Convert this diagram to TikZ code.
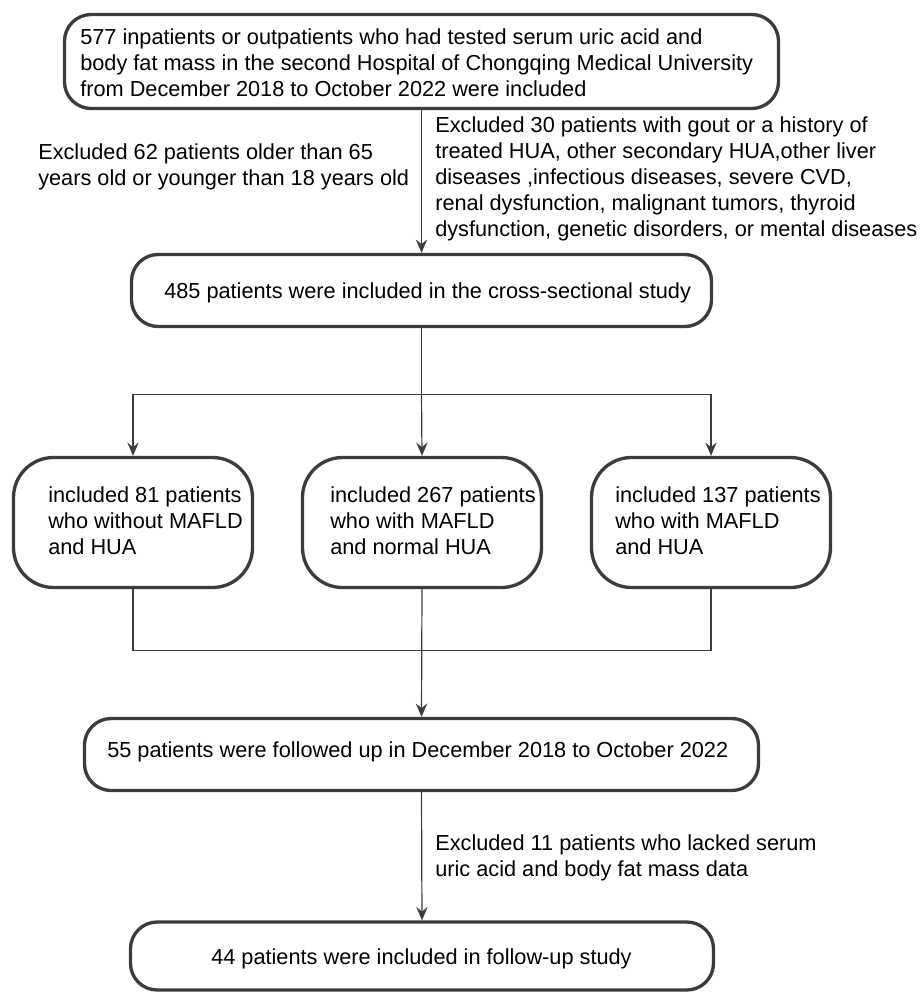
\documentclass[tikz,border=0pt]{standalone}
\usepackage{fontspec}
\setmainfont{Liberation Sans}
\usepackage{tikz}
\usetikzlibrary{arrows.meta,positioning,calc}
\definecolor{edgegray}{HTML}{3C3C3C}

\begin{document}
\begin{tikzpicture}[x=0.75pt,y=-0.75pt,
  every node/.style={font=\fontsize{16.3}{19.5}\selectfont},
  stage/.style={draw=edgegray, line width=2.5pt, rounded corners=20pt, inner sep=0pt},
  group/.style={stage, rounded corners=30pt, minimum width=179.25pt, minimum height=97.5pt},
  txt/.style={align=left, inner sep=0pt, anchor=west},
  link/.style={draw=edgegray, line width=0.9pt},
  arr/.style={link, -{Stealth[length=10pt,width=8.5pt,inset=3.5pt]}}]
\useasboundingbox (0,0) rectangle (921,993);
\node[stage, minimum width=535.5pt, minimum height=70.5pt] (screen) at (421.5,61.5) {};
\node[txt] (screentxt) at (80,63) {577 inpatients or outpatients who had tested serum uric acid and\\
  body fat mass in the second Hospital of Chongqing Medical University\\
  from December 2018 to October 2022 were included};
\node[stage, minimum width=435pt, minimum height=54pt] (cross) at (421.5,290.5) {};
\node[txt] (crosstxt) at (164,293) {485 patients were included in the cross-sectional study};
\node[txt] (exage) at (38,167) {Excluded 62 patients older than 65\\years old or younger than 18 years old};
\node[txt] (exdis) at (435,179) {Excluded 30 patients with gout or a history of\\
  treated HUA, other secondary HUA,other liver\\
  diseases ,infectious diseases, severe CVD,\\
  renal dysfunction, malignant tumors, thyroid\\
  dysfunction, genetic disorders, or mental diseases};
\node[group] (grpA) at (133,522.5) {};
\node[group] (grpB) at (422,522.5) {};
\node[group] (grpC) at (711,522.5) {};
\node[txt] (grpAtxt) at (48,521) {included 81 patients\\who without MAFLD\\and HUA};
\node[txt] (grpBtxt) at (330,521) {included 267 patients\\who with MAFLD\\and normal HUA};
\node[txt] (grpCtxt) at (615,521) {included 137 patients\\who with MAFLD\\and HUA};
\node[stage, minimum width=505.5pt, minimum height=54pt] (follow) at (421.5,754.5) {};
\node[txt] (followtxt) at (107,752) {55 patients were followed up in December 2018 to October 2022};
\node[txt] (exlack) at (435,858) {Excluded 11 patients who lacked serum\\uric acid and body fat mass data};
\node[stage, minimum width=437.25pt, minimum height=51pt] (final) at (422,956) {};
\node[txt] (finaltxt) at (211,959) {44 patients were included in follow-up study};
\draw[arr] (screen.south) -- (cross.north);
\draw[link] (cross.south) -- ++(0,66) coordinate (fork);
\draw[arr] (fork) -| (grpA.north);
\draw[arr] (fork) -- (grpB.north);
\draw[arr] (fork) -| (grpC.north);
\coordinate (merge) at ($(grpB.south)+(0,61)$);
\draw[link] (grpA.south) |- (merge) -| (grpC.south);
\draw[arr] (grpB.south) -- (follow.north);
\draw[arr] (follow.south) -- (final.north);
\end{tikzpicture}
\end{document}
